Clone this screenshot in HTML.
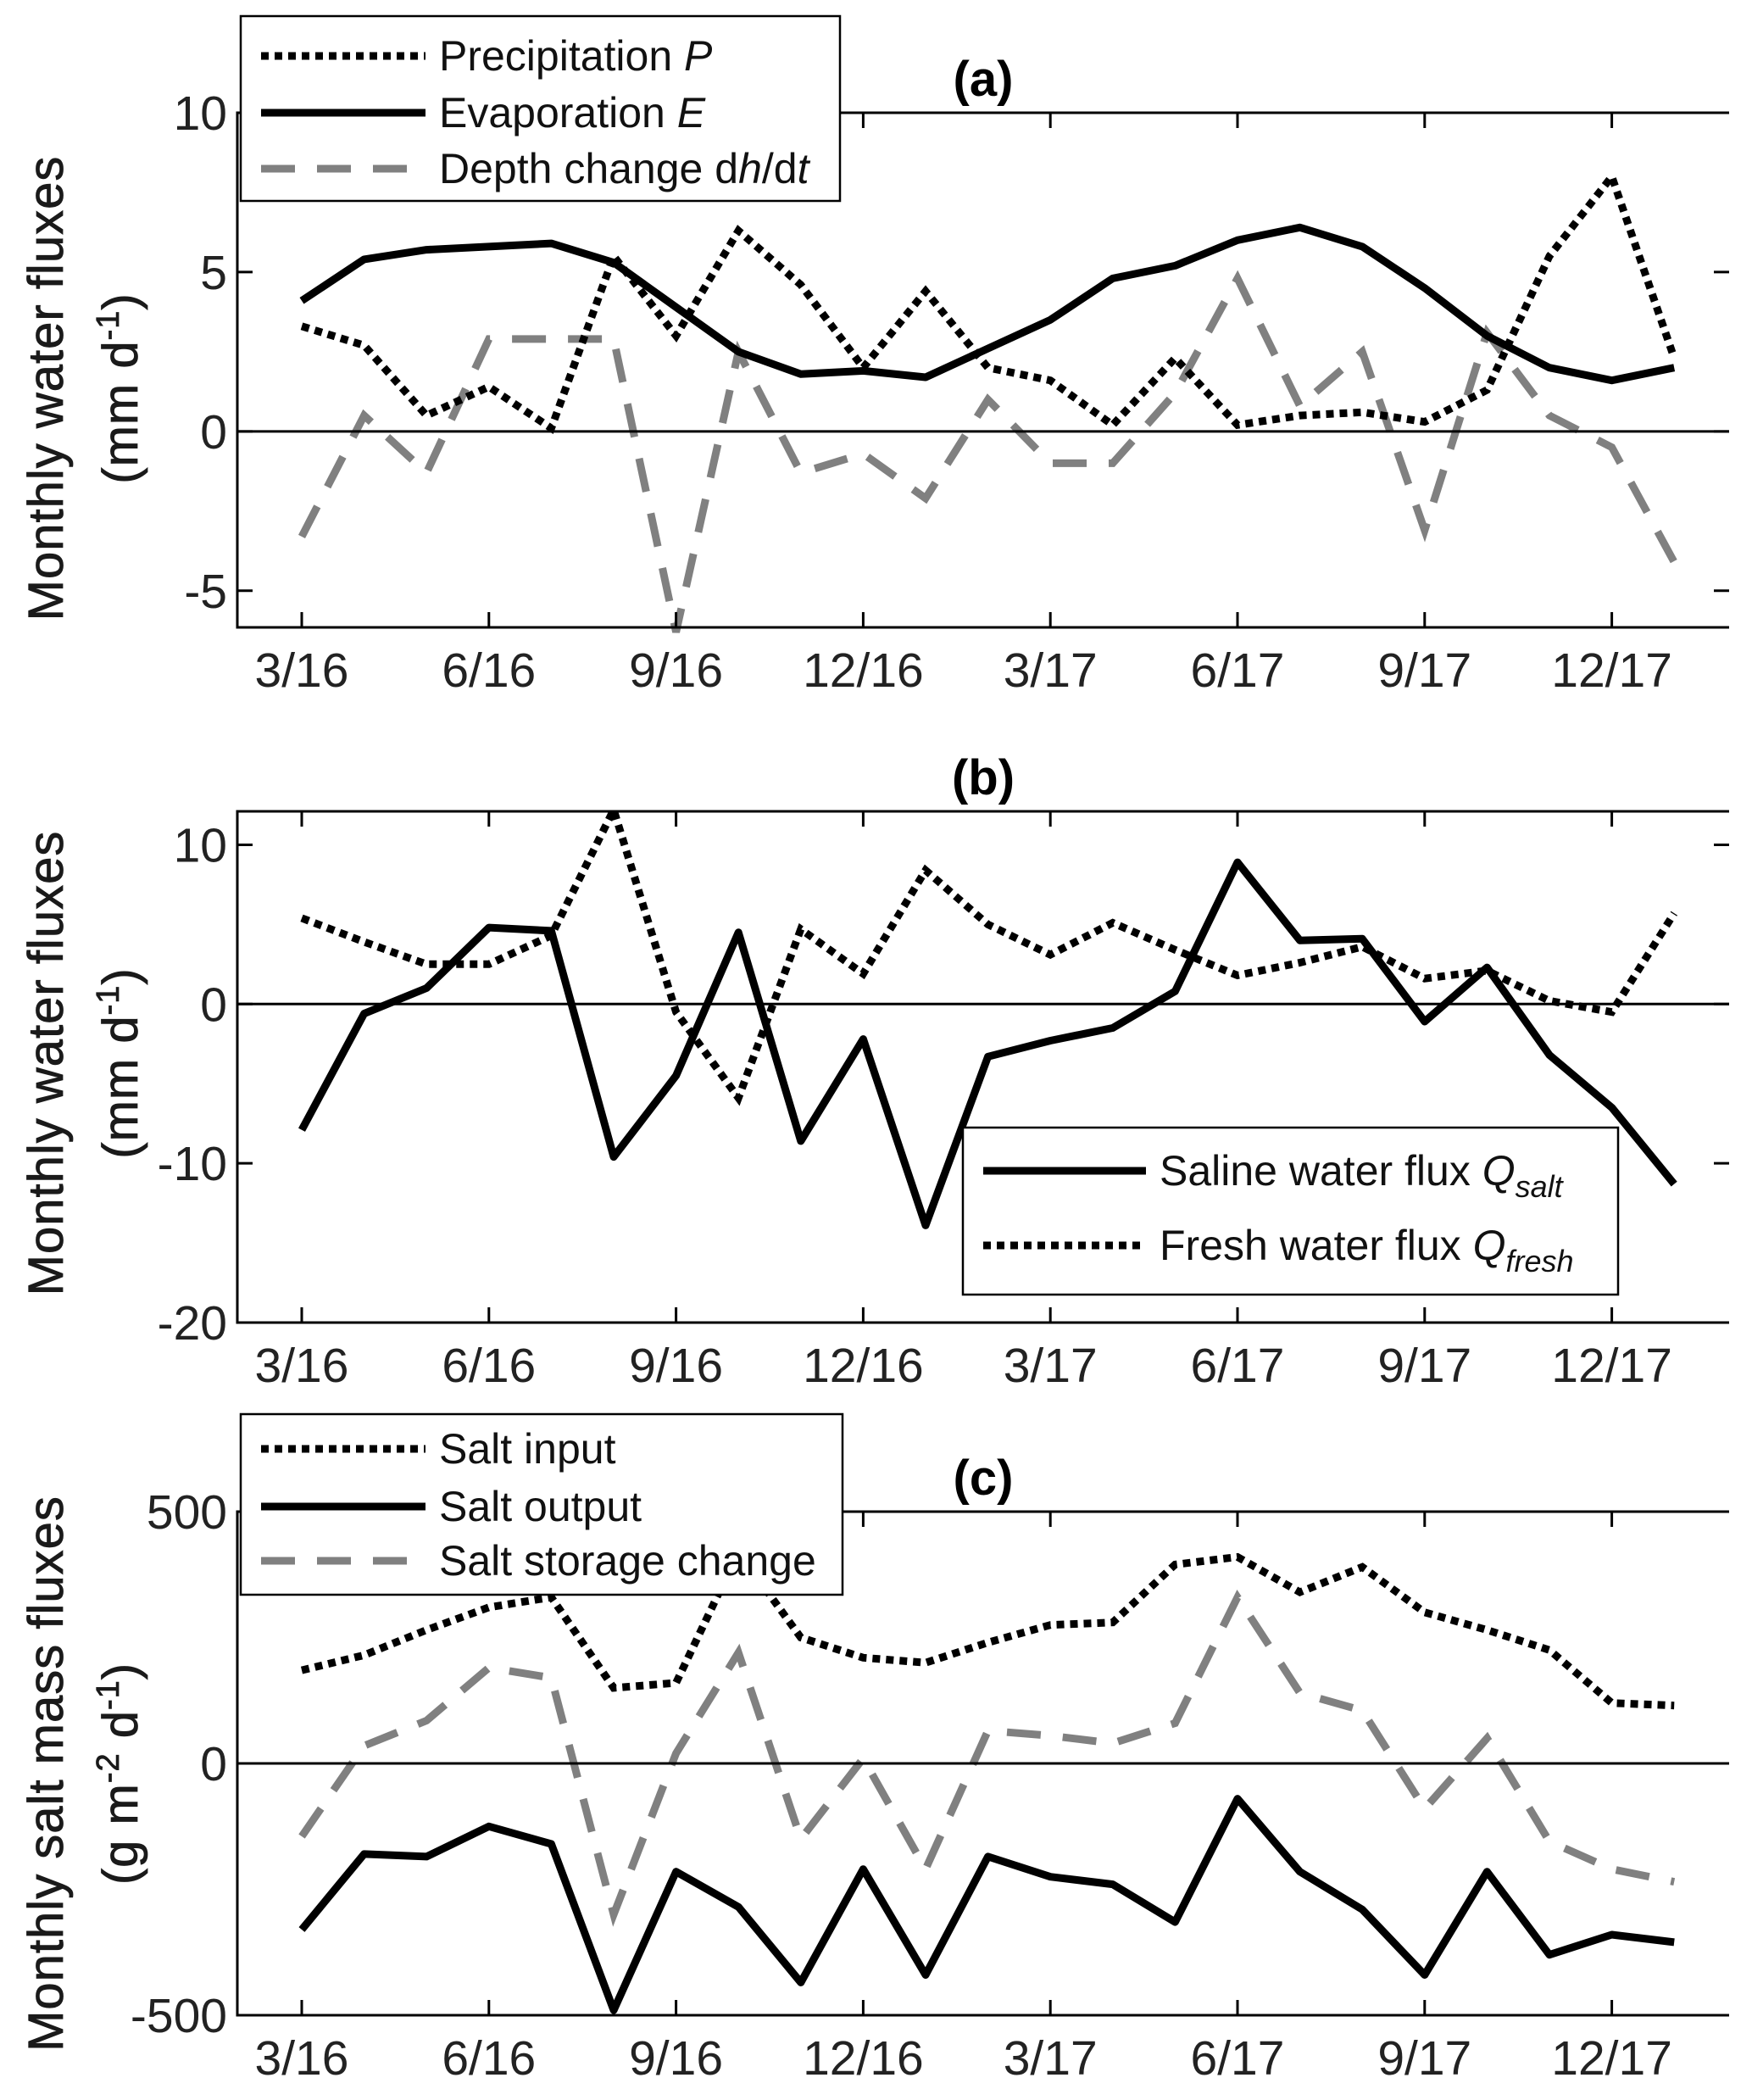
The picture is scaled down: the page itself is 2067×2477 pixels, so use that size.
<!DOCTYPE html>
<html><head><meta charset="utf-8">
<style>
html,body{margin:0;padding:0;background:#fff;}
svg{display:block;font-family:"Liberation Sans",Arial,sans-serif;}
</style></head>
<body>
<svg id="chart" width="2067" height="2477" viewBox="0 0 2067 2477" xmlns="http://www.w3.org/2000/svg"></svg>
<script>
const monthLabels = ["3/16","6/16","9/16","12/16","3/17","6/17","9/17","12/17"];
const precipP = [3.3,2.7,0.5,1.4,0.1,5.5,3.0,6.3,4.6,2.0,4.4,2.0,1.6,0.2,2.3,0.2,0.5,0.6,0.3,1.3,5.5,8.0,2.3];
const evapE = [4.1,5.4,5.7,5.8,5.9,5.3,3.9,2.5,1.8,1.9,1.7,2.6,3.5,4.8,5.2,6.0,6.4,5.8,4.5,3.0,2.0,1.6,2.0];
const depthChange = [-3.3,0.5,-1.3,2.9,2.9,2.9,-6.3,2.5,-1.3,-0.7,-2.1,1.0,-1.0,-1.0,1.2,4.8,0.8,2.5,-3.1,3.1,0.5,-0.5,-4.1];
const qSalt = [-7.9,-0.6,1.0,4.8,4.6,-9.6,-4.5,4.5,-8.6,-2.2,-13.9,-3.3,-2.3,-1.5,0.8,8.9,4.0,4.1,-1.1,2.3,-3.2,-6.5,-11.3];
const qFresh = [5.4,3.9,2.5,2.5,4.3,12.2,-0.5,-5.9,4.7,1.9,8.4,5.0,3.1,5.1,3.4,1.8,2.6,3.6,1.6,2.1,0.2,-0.5,5.7];
const saltInput = [185,215,265,310,330,150,160,420,250,210,200,240,275,280,395,410,340,390,300,265,225,120,115];
const saltOutput = [-330,-180,-185,-125,-160,-490,-215,-285,-435,-210,-420,-185,-225,-240,-315,-70,-215,-290,-420,-215,-380,-340,-355];
const saltStorage = [-145,35,85,190,170,-300,20,220,-150,10,-210,65,55,40,80,330,140,105,-90,50,-155,-210,-235];
const ticksA = [-5,0,5,10];
const ticksB = [-20,-10,0,10];
const ticksC = [-500,0,500];

const NS="http://www.w3.org/2000/svg";
const svg=document.getElementById('chart');
function mk(tag,attrs,parent){const e=document.createElementNS(NS,tag);for(const k in attrs)e.setAttribute(k,attrs[k]);(parent||svg).appendChild(e);return e;}
const L=280,R=2040,X0=356,DX=73.6;
function xs(i){return X0+i*DX;}

const styles={
 dotted:{stroke:'#000','stroke-width':9,'stroke-dasharray':'9 7',fill:'none'},
 solid:{stroke:'#000','stroke-width':9,fill:'none','stroke-linejoin':'round'},
 dashed:{stroke:'#808080','stroke-width':9,'stroke-dasharray':'40 26',fill:'none'}
};

function panel(id,top,bot,vmin,vmax,ticks,title,ylab1,ylab2,ylabCy,series,legend){
 const g=mk('g',{});
 
 
 const ys=v=>bot-(v-vmin)/(vmax-vmin)*(bot-top);
 series.forEach(s=>{
  const pts=s.data.map((v,i)=>xs(i).toFixed(1)+','+ys(v).toFixed(1)).join(' ');
  const p=mk('polyline',Object.assign({points:pts},styles[s.style]),g);
  
  
 });
 const z=mk('line',{x1:L,x2:R,y1:ys(0),y2:ys(0),stroke:'#000','stroke-width':3},g);
 
 
 const ax=mk('path',{d:`M${R},${top}H${L}V${bot}H${R}`,stroke:'#000','stroke-width':3,fill:'none'},g);
 
 
 for(let i=0;i<monthLabels.length;i++){
  const x=xs(i*3);
  mk('line',{x1:x,x2:x,y1:bot,y2:bot-18,stroke:'#000','stroke-width':3},g);
  mk('line',{x1:x,x2:x,y1:top,y2:top+18,stroke:'#000','stroke-width':3},g);
  const t=mk('text',{x:x,y:bot+70,'font-size':57,'text-anchor':'middle',fill:'#222'},g);
  t.textContent=monthLabels[i];
  
  
 }
 ticks.forEach(v=>{
  const y=ys(v);
  mk('line',{x1:L,x2:L+18,y1:y,y2:y,stroke:'#000','stroke-width':3},g);
  mk('line',{x1:R,x2:R-18,y1:y,y2:y,stroke:'#000','stroke-width':3},g);
  const t=mk('text',{x:L-12,y:y+20,'font-size':57,'text-anchor':'end',fill:'#222'},g);
  t.textContent=String(v);
  
  
 });
 const tt=mk('text',{x:(L+R)/2,y:top-20,'font-size':58,'font-weight':'bold','text-anchor':'middle'},g);
 tt.textContent=title;
 
 
 const y1=mk('text',{x:0,y:0,'font-size':58,'letter-spacing':1,'text-anchor':'middle',fill:'#1a1a1a',stroke:'#1a1a1a','stroke-width':0.8,transform:`translate(74,${ylabCy}) rotate(-90)`},g);
 y1.textContent=ylab1;
 
 
 const y2=mk('text',{x:0,y:0,'font-size':58,'letter-spacing':1,'text-anchor':'middle',fill:'#1a1a1a',stroke:'#1a1a1a','stroke-width':0.8,transform:`translate(162,${ylabCy}) rotate(-90)`},g);
 y2.innerHTML=ylab2;
 
 
 const lg=mk('g',{},g);
 
 
 mk('rect',{x:legend.x,y:legend.y,width:legend.w,height:legend.h,fill:'#fff',stroke:'#000','stroke-width':2.5},lg);
 legend.items.forEach((it,k)=>{
  const cy=legend.rows[k];
  const e=mk('g',{},lg);
  
  
  mk('line',Object.assign({x1:legend.lx1,x2:legend.lx2,y1:cy,y2:cy},styles[it.style]),e);
  const t=mk('text',{x:legend.tx,y:cy+17,'font-size':50,fill:'#111'},e);
  t.innerHTML=it.label;
 });
}

panel('a',133,740,-6.15,10,ticksA,'(a)','Monthly water fluxes','(mm d<tspan font-size="38" dy="-22">-1</tspan><tspan dy="22">)</tspan>',458,
 [{name:'depth-change-line',data:depthChange,style:'dashed'},{name:'precipitation-line',data:precipP,style:'dotted'},{name:'evaporation-line',data:evapE,style:'solid'}],
 {x:284,y:19,w:707,h:218,lx1:308,lx2:502,tx:518,rows:[66,133,199],items:[
  {style:'dotted',label:'Precipitation <tspan font-style="italic">P</tspan>'},
  {style:'solid',label:'Evaporation <tspan font-style="italic">E</tspan>'},
  {style:'dashed',label:'Depth change d<tspan font-style="italic">h</tspan>/d<tspan font-style="italic">t</tspan>'}]});

panel('b',957,1560,-20,12.1,ticksB,'(b)','Monthly water fluxes','(mm d<tspan font-size="38" dy="-22">-1</tspan><tspan dy="22">)</tspan>',1254,
 [{name:'fresh-water-flux-line',data:qFresh,style:'dotted'},{name:'saline-water-flux-line',data:qSalt,style:'solid'}],
 {x:1136,y:1330,w:773,h:197,lx1:1160,lx2:1352,tx:1368,rows:[1381,1469],items:[
  {style:'solid',label:'Saline water flux <tspan font-style="italic">Q</tspan><tspan font-style="italic" font-size="36" dy="14">salt</tspan>'},
  {style:'dotted',label:'Fresh water flux <tspan font-style="italic">Q</tspan><tspan font-style="italic" font-size="36" dy="14">fresh</tspan>'}]});

panel('c',1783,2377,-500,500,ticksC,'(c)','Monthly salt mass fluxes','(g m<tspan font-size="38" dy="-22">-2</tspan><tspan dy="22"> d</tspan><tspan font-size="38" dy="-22">-1</tspan><tspan dy="22">)</tspan>',2092,
 [{name:'salt-storage-change-line',data:saltStorage,style:'dashed'},{name:'salt-input-line',data:saltInput,style:'dotted'},{name:'salt-output-line',data:saltOutput,style:'solid'}],
 {x:284,y:1668,w:710,h:213,lx1:308,lx2:502,tx:518,rows:[1709,1777,1841],items:[
  {style:'dotted',label:'Salt input'},
  {style:'solid',label:'Salt output'},
  {style:'dashed',label:'Salt storage change'}]});
</script>
</body></html>
